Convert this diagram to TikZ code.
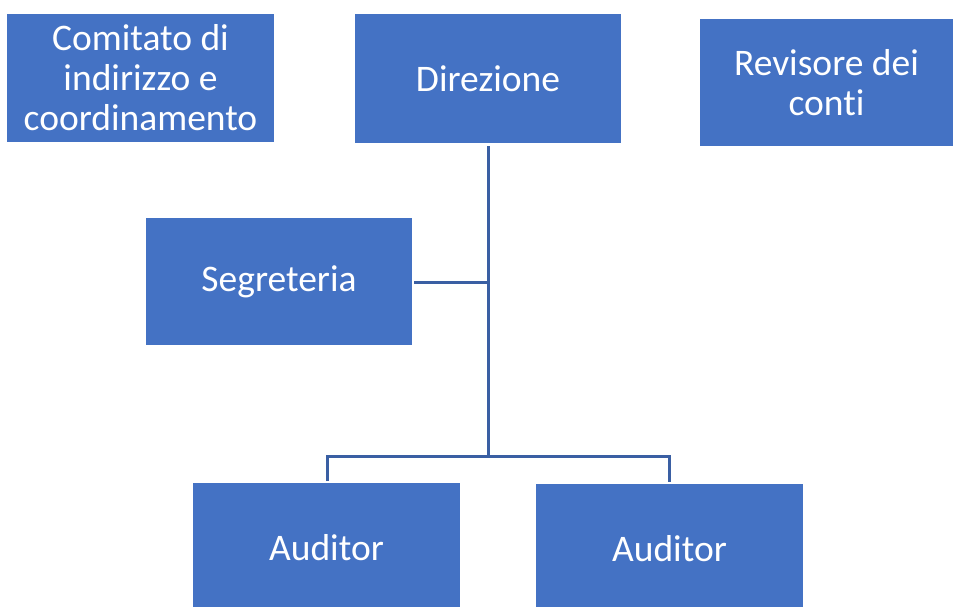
\documentclass[tikz,border=0pt]{standalone}
\usepackage{fontspec}
\setmainfont[Ligatures=NoCommon]{Carlito}
\definecolor{boxblue}{HTML}{4472C4}
\definecolor{lineblue}{HTML}{3A5FA3}
\begin{document}
\begin{tikzpicture}[x=1pt,y=-1pt,
  orgbox/.style={rectangle, fill=boxblue, text=white, inner sep=0pt, align=center,
    font=\fontsize{37.5}{40}\selectfont},
  link/.style={draw=lineblue, line width=3pt}]
\useasboundingbox (0,0) rectangle (954,606);
\node[orgbox, minimum width=267pt, minimum height=128pt] (com) at (140.5,78) {Comitato di\\indirizzo e\\coordinamento};
\node[orgbox, minimum width=266pt, minimum height=129pt] (dir) at (488,78.5) {Direzione};
\node[orgbox, minimum width=253pt, minimum height=127pt] (rev) at (826.5,82.5) {Revisore dei\\conti};
\node[orgbox, minimum width=266pt, minimum height=127pt] (seg) at (279,281.5) {Segreteria};
\node[orgbox, minimum width=267pt, minimum height=130pt] (aud1) at (326.5,548) {Auditor};
\node[orgbox, minimum width=267pt, minimum height=130pt] (aud2) at (669.5,549) {Auditor};
\coordinate (top) at (488,146);
\coordinate (mid) at (488,282);
\coordinate (bot) at (488,456);
\coordinate (segend) at (414,282);
\coordinate (l1) at (327,456);
\coordinate (l2) at (669,456);
\coordinate (d1) at (327,481);
\coordinate (d2) at (669,482);
\draw[link] (top) -- (bot);
\draw[link] (segend) -- (mid);
\draw[link] (d1) -- (l1) -- (l2) -- (d2);
\end{tikzpicture}
\end{document}
